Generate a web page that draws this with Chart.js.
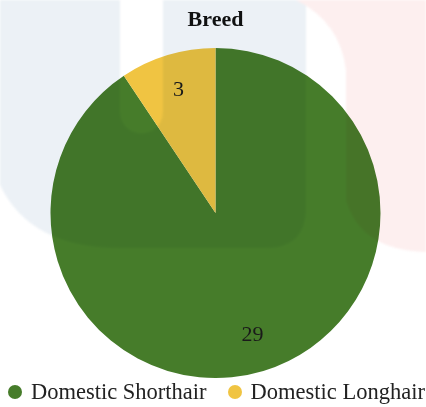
<!DOCTYPE html>
<html>
<head>
<meta charset="utf-8">
<script src="https://cdn.jsdelivr.net/npm/chart.js@4.4.1/dist/chart.umd.min.js"></script>
<style>
  body { margin: 0; background: #fff; }
  #wrap { position: relative; width: 426px; height: 407px; overflow: hidden; }
  #wrap canvas { position: absolute; left: 0; top: 0; }
  #tint { position: absolute; left: 0; top: 0; mix-blend-mode: multiply; pointer-events: none; filter: blur(1px); }
  #legend {
    position: absolute; left: 0; top: 379px; width: 426px; height: 26px;
    display: flex; align-items: center; padding-left: 8px; box-sizing: border-box;
    font-family: "Liberation Serif", serif; font-size: 22.5px; color: #222; line-height: 26px;
  }
  #legend .item { display: flex; align-items: center; white-space: nowrap; }
  #legend .item + .item { margin-left: 21px; }
  #legend .dot { width: 14px; height: 14px; border-radius: 50%; margin-right: 9px; }
</style>
</head>
<body>
<div id="wrap">
  <canvas id="breedChart"></canvas>
  <!-- soft background shapes, multiplied over the chart -->
  <svg id="tint" width="426" height="407">
    <path d="M0,0 H120 V112 A21.5,21.5 0 0 0 163,112 V0 H306 V208 Q306,248 266,248 H120 Q30,248 0,185 Z" fill="#ecf1f6"/>
    <path d="M296,0 H426 V252 Q360,250 346,200 V70 Q340,22 296,0 Z" fill="#fdefef"/>
  </svg>
  <div id="legend"></div>
</div>
<script>
const categories = ['Domestic Shorthair', 'Domestic Longhair'];
const counts = [29, 3];
const sliceColors = ['#467c2a', '#f0c442'];

// counts written inside each slice
const valueLabels = {
  id: 'valueLabels',
  afterDatasetsDraw(chart) {
    const ctx = chart.ctx;
    const meta = chart.getDatasetMeta(0);
    ctx.save();
    ctx.font = '22px "Liberation Serif"';
    ctx.fillStyle = '#1a1a1a';
    ctx.textAlign = 'center';
    ctx.textBaseline = 'middle';
    meta.data.forEach((arc, i) => {
      const p = arc.getProps(['x', 'y', 'startAngle', 'endAngle', 'outerRadius'], true);
      const a = (p.startAngle + p.endAngle) / 2;
      const r = p.outerRadius * 0.775;
      ctx.fillText(chart.data.datasets[0].data[i], p.x + Math.cos(a) * r, p.y + Math.sin(a) * r);
    });
    ctx.restore();
  }
};

// legend built as html so the spacing can be set freely
const htmlLegend = {
  id: 'htmlLegend',
  afterUpdate(chart) {
    const box = document.getElementById('legend');
    box.innerHTML = '';
    const items = chart.options.plugins.legend.labels.generateLabels(chart);
    items.forEach(item => {
      const el = document.createElement('div');
      el.className = 'item';
      const dot = document.createElement('span');
      dot.className = 'dot';
      dot.style.background = item.fillStyle;
      el.appendChild(dot);
      el.appendChild(document.createTextNode(item.text));
      box.appendChild(el);
    });
  }
};

const ctx = document.getElementById('breedChart').getContext('2d');
const breedChart = new Chart(ctx, {
  type: 'pie',
  data: {
    labels: categories,
    datasets: [{
      data: counts,
      backgroundColor: sliceColors,
      borderWidth: 0
    }]
  },
  options: {
    responsive: true,
    maintainAspectRatio: false,
    animation: false,
    layout: { padding: { left: 5, bottom: 29 } },
    plugins: {
      title: {
        display: true,
        text: 'Breed',
        color: '#111',
        font: { family: 'Liberation Serif', size: 22, weight: 'bold' },
        padding: { top: 7, bottom: 14.6 }
      },
      legend: { display: false },
      tooltip: { enabled: false }
    }
  },
  plugins: [valueLabels, htmlLegend]
});
</script>
</body>
</html>
